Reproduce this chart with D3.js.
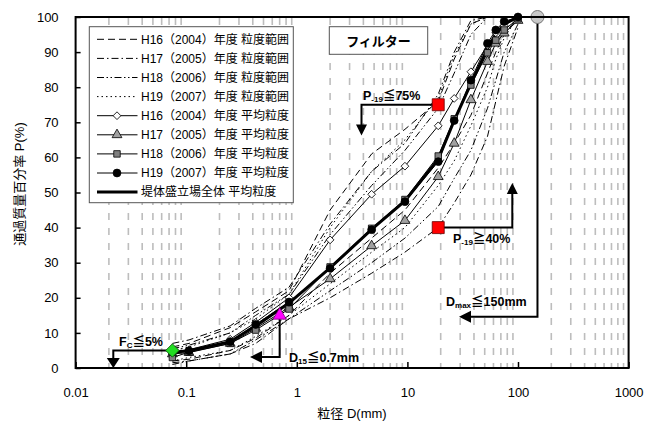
<!DOCTYPE html>
<html><head><meta charset="utf-8">
<script src="https://cdn.jsdelivr.net/npm/d3@7"></script>
<style>
body{margin:0;background:#fff;}
text{font-family:"Liberation Sans","Noto Sans CJK JP",sans-serif;}
</style></head>
<body><svg id="c" width="659" height="422"></svg>
<script>
// ---------- data ----------
const sieves = [0.075,0.106,0.25,0.425,0.85,2,4.75,9.5,19,26.5,37.5,53,63,75,100];
const xTicks = [0.01,0.1,1,10,100,1000];
const xTickLabels = ["0.01","0.1","1","10","100","1000"];
const yTicks = [0,10,20,30,40,50,60,70,80,90,100];
const yTickLabels = ["0","10","20","30","40","50","60","70","80","90","100"];

// range envelopes (粒度範囲)
const rangeH16Upper = [6,7,11.5,16,22,45,61,68,76,88,98,100,100,100,100];
const rangeH16Lower = [2,2.5,5,8.5,15,27,37,45,57,64,72,84,90,95,100];
const rangeH17Upper = [7,8,12,17,23,41,56,64,78,90,99,100,100,100,100];
const rangeH17Lower = [1.5,2,4,7,14,20,27,33,40,47,55,66,76,86,97];
const rangeH18Upper = [5.5,6.5,10,15,21,38,52,62,74,84,95,100,100,100,100];
const rangeH18Lower = [1,2,4,8,14,22,30,37,46,54,62,74,82,90,98];
const rangeH19Upper = [5,6,10,14,21,40,56,65,77,89,98,100,100,100,100];
const rangeH19Lower = [2,3,5,9,15,24,33,40,52,59,69,80,88,94,100];

// mean gradations (平均粒度)
const meanH16 = [4.5,5.2,8.2,13,20,36.5,49.5,57.5,69,76.8,84.4,92,95.5,97.5,100];
const meanH17 = [4,4.4,7,11.3,17.3,25.4,34.8,42,54.5,64,76.4,87.3,92.5,95.4,99];
const meanH18 = [3,4.5,7,10.8,16.8,28.8,39.8,48,60.4,71,80.6,89.8,93.4,96.3,99.5];
const meanH19 = [4.5,4.9,7.5,12.4,18.8,28.4,39.4,47.4,58.8,70.5,82,92.5,96.3,98.7,100];
const meanAll = [4.5,4.9,7.5,12,18.5,28.5,39.5,47.6,59.5,70.5,81,91,95,98,100];

const legendLabels = [
 "H16（2004）年度 粒度範囲","H17（2005）年度 粒度範囲","H18（2006）年度 粒度範囲","H19（2007）年度 粒度範囲",
 "H16（2004）年度 平均粒度","H17（2005）年度 平均粒度","H18（2006）年度 平均粒度","H19（2007）年度 平均粒度",
 "堤体盛立場全体 平均粒度"];

// criteria points
const critFc = {d:0.075, p:5};
const critD15 = {d:0.7, p:15};
const critP19max = {d:19, p:75};
const critP19min = {d:19, p:40};
const critDmax = {d:150, p:100};

// ---------- drawing ----------
const svg = d3.select("#c");
const L=75.6, R=628.6, T=17, B=368;
const x = d3.scaleLog().domain([0.01,1000]).range([L,R]);
const y = d3.scaleLinear().domain([0,100]).range([B,T]);

// minor gridlines
const minors=[];
for(const dec of [0.01,0.1,1,10,100]) for(let m=2;m<=9;m++) minors.push(dec*m);
svg.append("g").selectAll("line").data(minors).join("line")
 .attr("x1",d=>x(d)).attr("x2",d=>x(d)).attr("y1",T+1).attr("y2",B)
 .attr("stroke","#bdbdbd").attr("stroke-width",1.6).attr("stroke-dasharray","7,8");

const line = d3.line().x((d,i)=>x(sieves[i])).y(d=>y(d));

const rangeStyles = [
 {data:[rangeH16Upper,rangeH16Lower], dash:"7,4"},
 {data:[rangeH17Upper,rangeH17Lower], dash:"7,3,1.5,3"},
 {data:[rangeH18Upper,rangeH18Lower], dash:"7,2.5,1.5,2.5,1.5,2.5"},
 {data:[rangeH19Upper,rangeH19Lower], dash:"1.5,3"}
];
const gR = svg.append("g");
rangeStyles.forEach(s=>s.data.forEach(arr=>{
  gR.append("path").attr("d",line(arr)).attr("fill","none")
   .attr("stroke","#000").attr("stroke-width",1).attr("stroke-dasharray",s.dash);
}));

const sym = {
  diamond: d3.symbol().type(d3.symbolSquare).size(30)(),
  triangle: d3.symbol().type(d3.symbolTriangle).size(42)(),
  square: d3.symbol().type(d3.symbolSquare).size(42)(),
  circle: d3.symbol().type(d3.symbolCircle).size(48)()
};
const means = [
 {data:meanH16, s:"diamond", fill:"#fff", rot:45},
 {data:meanH17, s:"triangle", fill:"#a0a0a0", rot:0},
 {data:meanH18, s:"square", fill:"#808080", rot:0},
 {data:meanH19, s:"circle", fill:"#000", rot:0}
];
const gM = svg.append("g");
means.forEach(m=>{
  gM.append("path").attr("d",line(m.data)).attr("fill","none").attr("stroke","#000").attr("stroke-width",1);
});
gM.append("path").attr("d",line(meanAll)).attr("fill","none").attr("stroke","#000").attr("stroke-width",3);
means.forEach(m=>{
  gM.append("g").selectAll("path").data(m.data).join("path")
   .attr("d",sym[m.s])
   .attr("transform",(d,i)=>`translate(${x(sieves[i])},${y(d)}) rotate(${m.rot})`)
   .attr("fill",m.fill).attr("stroke","#000").attr("stroke-width",0.8);
});

// ---------- annotations ----------
const gA = svg.append("g");
function head(px,py,dir,len,w){ // tip at (px,py)
  let pts;
  if(dir==="down") pts=[[px,py],[px-w/2,py-len],[px+w/2,py-len]];
  if(dir==="up") pts=[[px,py],[px-w/2,py+len],[px+w/2,py+len]];
  if(dir==="left") pts=[[px,py],[px+len,py-w/2],[px+len,py+w/2]];
  gA.append("path").attr("d","M"+pts.map(p=>p.join(",")).join("L")+"Z").attr("fill","#000");
}
function poly(pts){
  gA.append("path").attr("d","M"+pts.map(p=>p.join(",")).join("L")).attr("fill","none")
   .attr("stroke","#000").attr("stroke-width",2);
}
// Fc
{const cx=x(critFc.d), cy=y(critFc.p);
 poly([[cx,cy],[113.3,cy],[113.3,B-8]]); head(113.3,B,"down",10,13);}
// D15
{const cx=x(critD15.d), cy=y(critD15.p);
 poly([[cx,cy],[cx,357],[258,357]]); head(250,357,"left",12,12);}
// P19 max
{const cx=x(critP19max.d), cy=y(critP19max.p);
 poly([[cx,cy],[361.5,cy],[361.5,126]]); head(361.5,135.5,"down",11,11);}
// P19 min
{const cx=x(critP19min.d), cy=y(critP19min.p);
 poly([[cx,cy],[512.3,cy],[512.3,192]]); head(512.3,183,"up",11,11);}
// Dmax
{const cx=x(critDmax.d), cy=y(critDmax.p);
 poly([[cx,cy],[cx,316.7],[468,316.7]]); head(459,316.7,"left",12,12);}

// criteria markers
gA.append("path").attr("d",d3.symbol().type(d3.symbolSquare).size(90)())
  .attr("transform",`translate(${x(critFc.d)},${y(critFc.p)}) rotate(45)`)
  .attr("fill","#22dd22").attr("stroke","#115511").attr("stroke-width",0.8);
gA.append("path").attr("d",d3.symbol().type(d3.symbolTriangle).size(75)())
  .attr("transform",`translate(${x(critD15.d)},${y(critD15.p)})`)
  .attr("fill","#ff00ff").attr("stroke","#770077").attr("stroke-width",0.8);
[critP19max,critP19min].forEach(c=>{
  gA.append("path").attr("d",d3.symbol().type(d3.symbolSquare).size(144)())
   .attr("transform",`translate(${x(c.d)},${y(c.p)})`)
   .attr("fill","#ff0000").attr("stroke","#660000").attr("stroke-width",0.8);
});
gA.append("circle").attr("cx",x(critDmax.d)).attr("cy",y(critDmax.p)).attr("r",6.5)
  .attr("fill","#c8c8c8").attr("stroke","#777").attr("stroke-width",1);

function label(xp,yp,parts){
  const t=gA.append("text").attr("x",xp).attr("y",yp).attr("font-size",12.5).attr("font-weight","bold");
  let shifted=false;
  parts.forEach(p=>{
    if(p.sub){ t.append("tspan").attr("font-size",8).attr("dy",2).text(p.t); shifted=true; }
    else { const ts=t.append("tspan").text(p.t); if(shifted){ ts.attr("dy",-2); shifted=false; } }
  });
}
label(119,346,[{t:"F"},{t:"C",sub:1},{t:"≦5%"}]);
label(289,361.5,[{t:"D"},{t:"15",sub:1},{t:"≦0.7mm"}]);
label(363,99.5,[{t:"P"},{t:"-19",sub:1},{t:"≦75%"}]);
label(453,242.5,[{t:"P"},{t:"-19",sub:1},{t:"≧40%"}]);
label(446,306,[{t:"D"},{t:"max",sub:1},{t:"≦150mm"}]);

// ---------- frame & axes ----------
const gy = svg.append("g").attr("transform",`translate(${L},0)`)
  .call(d3.axisLeft(y).tickValues(yTicks).tickFormat((d,i)=>yTickLabels[i]).tickSize(-5).tickPadding(17));
const gx = svg.append("g").attr("transform",`translate(0,${B})`)
  .call(d3.axisBottom(x).tickValues(xTicks).tickFormat((d,i)=>xTickLabels[i]).tickSize(-6).tickPadding(20));
[gx,gy].forEach(g=>{
  g.select(".domain").remove();
  g.selectAll("line").attr("stroke","#000").attr("stroke-width",1.5);
  g.selectAll("text").attr("font-size",13).attr("fill","#000")
   .attr("font-family",'"Liberation Sans","Noto Sans CJK JP",sans-serif');
});
svg.append("rect").attr("x",L).attr("y",T).attr("width",R-L).attr("height",B-T)
  .attr("fill","none").attr("stroke","#000").attr("stroke-width",2);

svg.append("text").attr("x",352).attr("y",418).attr("text-anchor","middle").attr("font-size",13).text("粒径 D(mm)");
svg.append("text").attr("transform","translate(24,184) rotate(-90)").attr("text-anchor","middle")
  .attr("font-size",13).text("通過質量百分率 P(%)");

// ---------- legend ----------
const lg = svg.append("g");
lg.append("rect").attr("x",89.3).attr("y",26.7).attr("width",204).attr("height",176)
  .attr("fill","#fff").attr("stroke","#555").attr("stroke-width",1);
const legendStyles = [
 {dash:rangeStyles[0].dash},{dash:rangeStyles[1].dash},{dash:rangeStyles[2].dash},{dash:rangeStyles[3].dash},
 {m:means[0]},{m:means[1]},{m:means[2]},{m:means[3]},{thick:1}];
legendLabels.forEach((lab,i)=>{
  const ly = 39.3 + i*19.1;
  const st = legendStyles[i];
  const ln = lg.append("line").attr("x1",97).attr("x2",137.5).attr("y1",ly).attr("y2",ly)
    .attr("stroke","#000").attr("stroke-width",st.thick?3:1);
  if(st.dash) ln.attr("stroke-dasharray",st.dash);
  if(st.m) lg.append("path").attr("d",sym[st.m.s])
     .attr("transform",`translate(117,${ly}) rotate(${st.m.rot})`)
     .attr("fill",st.m.fill).attr("stroke","#000").attr("stroke-width",0.8);
  lg.append("text").attr("x",141).attr("y",ly).attr("dy","0.36em").attr("font-size",12).text(lab);
});

// filter box
svg.append("rect").attr("x",329.3).attr("y",26.7).attr("width",98.4).attr("height",27.6)
  .attr("fill","#fff").attr("stroke","#555").attr("stroke-width",1);
svg.append("text").attr("x",378.5).attr("y",41).attr("dy","0.36em").attr("text-anchor","middle")
  .attr("font-size",13).attr("font-weight","bold").text("フィルター");
</script></body></html>
